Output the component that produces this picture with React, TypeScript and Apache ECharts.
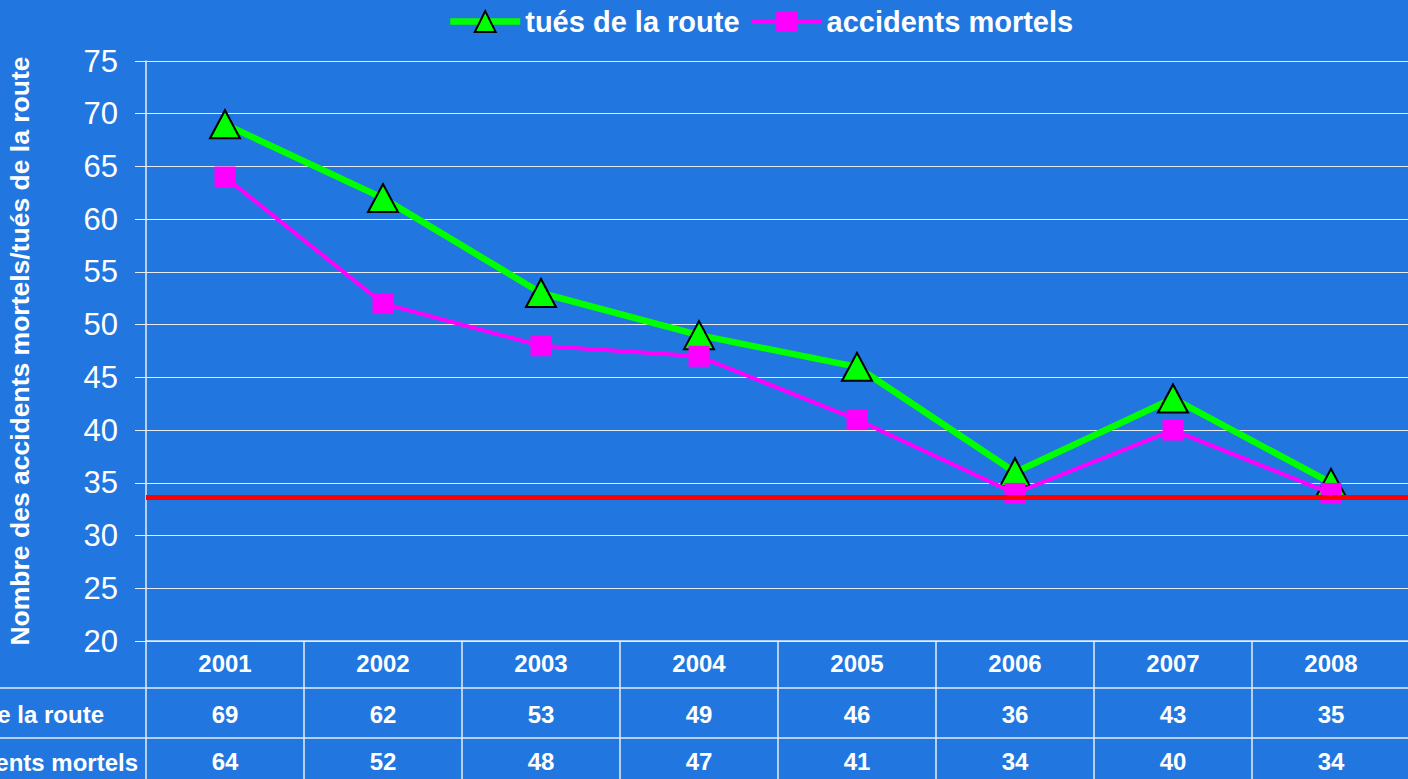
import React, { useEffect, useRef } from "react";
import * as echarts from "echarts";

const years = ["2001", "2002", "2003", "2004", "2005", "2006", "2007", "2008"];
const tues = [69, 62, 53, 49, 46, 36, 43, 35];
const accidents = [64, 52, 48, 47, 41, 34, 40, 34];
const seuil = 33.6;
const yTicks = { min: 20, max: 75, interval: 5 };
const seriesNames = ["tués de la route", "accidents mortels"];
const axisTitle = "Nombre des accidents mortels/tués de la route";

const FONT = "'Liberation Sans', Arial, sans-serif";
const BG = "#2177DF";
const LINE = "#E6ECF5";

export default function App() {
  const ref = useRef<HTMLDivElement>(null);
  useEffect(() => {
    document.body.style.margin = "0";
    const chart = echarts.init(ref.current!, null, { renderer: "svg" });
    const tableLabel = (arr: number[], offset: number) => ({
      type: "category",
      data: years,
      position: "bottom",
      offset,
      gridIndex: 0,
      axisLine: { show: false },
      axisTick: { show: false },
      axisLabel: {
        interval: 0,
        margin: 10,
        color: "#fff",
        fontSize: 24,
        fontWeight: "bold",
        fontFamily: FONT,
        formatter: (_v: string, i: number) => String(arr[i]),
      },
    });
    chart.setOption({
      animation: false,
      backgroundColor: BG,
      textStyle: { fontFamily: FONT },
      legend: {
        top: 2,
        left: 442,
        itemWidth: 70,
        itemHeight: 26,
        itemGap: 10,
        lineStyle: { width: "inherit" },
        textStyle: { color: "#fff", fontSize: 29, fontWeight: "bold", fontFamily: FONT },
        data: seriesNames,
      },
      grid: { left: 146, top: 61, width: 1264, height: 580, outerBoundsMode: "none", containLabel: false },
      xAxis: [
        {
          type: "category",
          data: years,
          boundaryGap: true,
          axisLine: { lineStyle: { color: LINE, width: 1.5 } },
          axisTick: { show: true, length: 140, interval: 0, lineStyle: { color: LINE, width: 1.5 } },
          axisLabel: {
            interval: 0,
            margin: 10,
            color: "#fff",
            fontSize: 24,
            fontWeight: "bold",
            fontFamily: FONT,
          },
        },
        tableLabel(tues, 51),
        tableLabel(accidents, 98),
      ],
      yAxis: {
        type: "value",
        min: yTicks.min,
        max: yTicks.max,
        interval: yTicks.interval,
        name: axisTitle,
        nameLocation: "middle",
        nameGap: 113,
        nameTextStyle: { color: "#fff", fontSize: 26.5, fontWeight: "bold", fontFamily: FONT },
        axisLine: { show: true, lineStyle: { color: LINE, width: 1.5 } },
        axisTick: { show: true, length: 11, lineStyle: { color: LINE } },
        axisLabel: { color: "#fff", fontSize: 31, margin: 28, fontFamily: FONT },
        splitLine: { lineStyle: { color: LINE, width: 1.2 } },
      },
      series: [
        {
          name: seriesNames[0],
          type: "line",
          data: tues,
          lineStyle: { color: "#00FF00", width: 6.5 },
          itemStyle: { color: "#00FF00", borderColor: "#000", borderWidth: 2 },
          symbol: "triangle",
          symbolSize: [30, 28],
          z: 3,
        },
        {
          name: seriesNames[1],
          type: "line",
          data: accidents,
          lineStyle: { color: "#FF00FF", width: 4 },
          itemStyle: { color: "#FF00FF", borderWidth: 0 },
          symbol: "rect",
          symbolSize: 21,
          z: 4,
          markLine: {
            silent: true,
            symbol: "none",
            label: { show: false },
            lineStyle: { color: "#FF0000", width: 5, type: "solid" },
            data: [{ yAxis: seuil }],
            z: 10,
          },
        },
      ],
      graphic: [
        { type: "line", shape: { x1: 0, y1: 688, x2: 1408, y2: 688 }, style: { stroke: LINE, lineWidth: 1.5 } },
        { type: "line", shape: { x1: 0, y1: 738, x2: 1408, y2: 738 }, style: { stroke: LINE, lineWidth: 1.5 } },
        {
          type: "text",
          x: 104,
          y: 714,
          style: { text: seriesNames[0], fill: "#fff", font: `bold 24px ${FONT}`, align: "right", verticalAlign: "middle" },
        },
        {
          type: "text",
          x: 138,
          y: 762,
          style: { text: seriesNames[1], fill: "#fff", font: `bold 24px ${FONT}`, align: "right", verticalAlign: "middle" },
        },
      ],
    });
    return () => chart.dispose();
  }, []);
  return <div ref={ref} style={{ position: "absolute", left: 0, top: 0, width: 1408, height: 779 }} />;
}
